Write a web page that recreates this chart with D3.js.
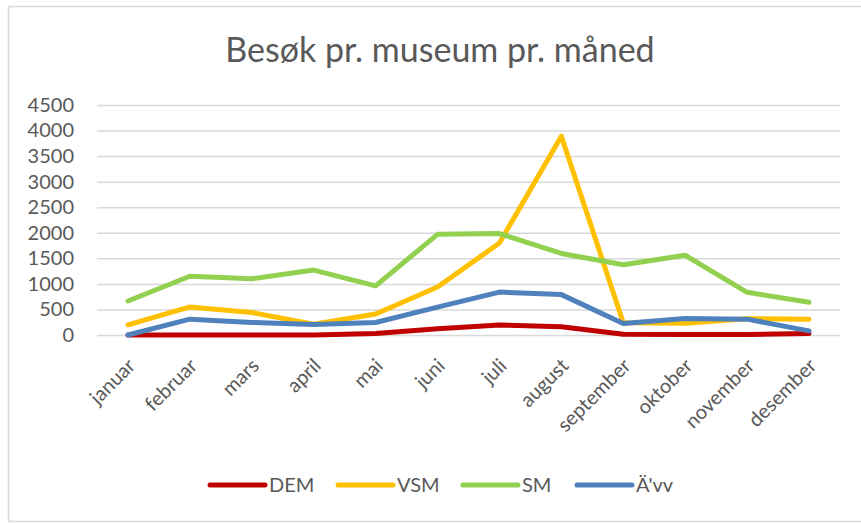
<!DOCTYPE html>
<html>
<head>
<meta charset="utf-8">
<script src="https://cdn.jsdelivr.net/npm/d3@7"></script>
<style>
  body { margin: 0; background: #fff; }
  .chart text { font-family: Lato, "Open Sans", sans-serif; fill: #595959; }
</style>
</head>
<body>
<div class="chart"></div>
<script>
// data
let months = ["januar", "februar", "mars", "april", "mai", "juni", "juli", "august", "september", "oktober", "november", "desember"];
let dem = [0, 0, 0, 0, 30, 120, 195, 160, 15, 10, 10, 30];
let vsm = [200, 550, 440, 210, 410, 940, 1800, 3890, 240, 230, 320, 310];
let sm = [665, 1150, 1100, 1270, 960, 1970, 1985, 1595, 1375, 1560, 835, 640];
let avv = [0, 310, 245, 205, 245, 545, 840, 790, 225, 325, 310, 80];
let seriesNames = ["DEM", "VSM", "SM", "Ä'vv"];
let seriesColors = ["#C00000", "#FFC000", "#92D050", "#4F81BD"];
let yTicks = [0, 500, 1000, 1500, 2000, 2500, 3000, 3500, 4000, 4500];

let W = 861, H = 524;
let margin = { top: 105, right: 21, bottom: 189, left: 97 };
let width = W - margin.left - margin.right;
let height = H - margin.top - margin.bottom;

let theData = [dem, vsm, sm, avv].map((vals, i) => {
  return { name: seriesNames[i], color: seriesColors[i], values: vals.map((v, j) => ({ month: months[j], val: v })) };
});

let svg = d3.select(".chart").append("svg").attr("width", W).attr("height", H);

// chart frame
svg.append("rect")
  .attr("x", 8.5).attr("y", 6.5).attr("width", 870).attr("height", 515)
  .attr("fill", "#fff").attr("stroke", "#d9d9d9").attr("stroke-width", 1.5);

svg.append("text")
  .attr("x", 440).attr("y", 62)
  .attr("text-anchor", "middle")
  .style("font-size", "34px")
  .text("Besøk pr. museum pr. måned");

let plot = svg.append("g").attr("transform", `translate(${margin.left},${margin.top})`);

let xScale = d3.scalePoint().domain(months).range([0, width]).padding(0.5);
let yScale = d3.scaleLinear().domain([0, 4500]).range([height, 0]);

// gridlines + y labels
let yAxis = plot.append("g")
  .call(d3.axisLeft(yScale).tickValues(yTicks).tickFormat(d3.format("d")).tickSize(-width).tickPadding(23));
yAxis.select(".domain").remove();
yAxis.selectAll("line").attr("stroke", "#d9d9d9").attr("stroke-width", 1.5);
yAxis.selectAll("text").style("font-size", "20px").attr("fill", "#595959");

// x labels, rotated
let xAxis = plot.append("g")
  .attr("transform", `translate(0,${height})`)
  .call(d3.axisBottom(xScale).tickSize(0).tickPadding(0));
xAxis.select(".domain").remove();
xAxis.selectAll("text")
  .style("font-size", "20px")
  .attr("fill", "#595959")
  .attr("text-anchor", "end")
  .attr("dy", 0)
  .attr("transform", "translate(8,32) rotate(-45)");

let line = d3.line()
  .x(d => xScale(d.month))
  .y(d => yScale(d.val));

plot.selectAll(".series")
  .data(theData)
  .enter()
  .append("path")
  .attr("class", "series")
  .attr("d", d => line(d.values))
  .attr("fill", "none")
  .attr("stroke", d => d.color)
  .attr("stroke-width", 5)
  .attr("stroke-linejoin", "round")
  .attr("stroke-linecap", "round");

// legend
let legendX = [210, 338, 463, 577];
let legend = svg.selectAll(".legend-item")
  .data(theData)
  .enter()
  .append("g")
  .attr("class", "legend-item")
  .attr("transform", (d, i) => `translate(${legendX[i]},485)`);

legend.append("line")
  .attr("x1", 0).attr("x2", 55)
  .attr("stroke", d => d.color)
  .attr("stroke-width", 5)
  .attr("stroke-linecap", "round");

legend.append("text")
  .attr("x", 59).attr("y", 7)
  .style("font-size", "20px")
  .text(d => d.name);
</script>
</body>
</html>
